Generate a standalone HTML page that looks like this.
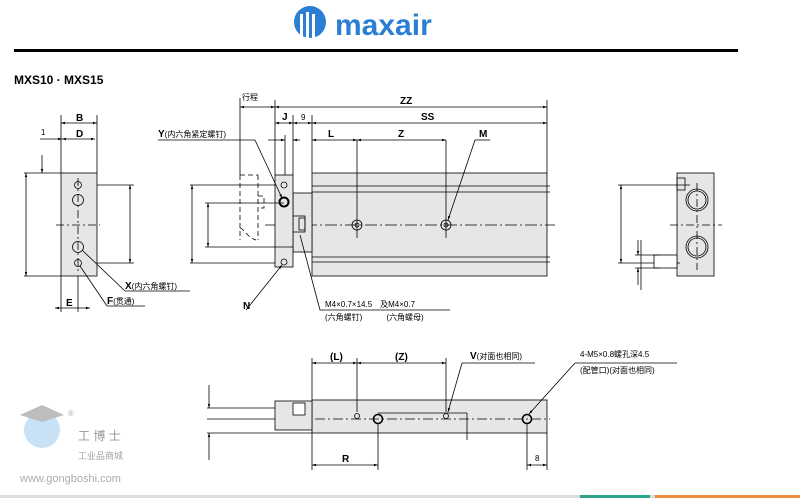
<!DOCTYPE html>
<html><head><meta charset="utf-8"><style>
html,body{margin:0;padding:0;background:#fff;}
svg{display:block;font-family:"Liberation Sans","Noto Sans CJK SC",sans-serif;}
</style></head><body>
<svg width="800" height="498" viewBox="0 0 800 498" xmlns="http://www.w3.org/2000/svg">
<defs>
<marker id="a" viewBox="0 0 10 10" refX="10" refY="5" markerWidth="5" markerHeight="5" orient="auto-start-reverse"><path d="M0,2L10,5L0,8z" fill="#000"/></marker>
</defs>
<!-- logo -->
<g>
<circle cx="310" cy="22" r="16" fill="#2a7fd4"/>
<rect x="300" y="14" width="3" height="24" fill="#fff"/><rect x="306" y="12" width="3" height="26" fill="#fff"/><rect x="312" y="14" width="3" height="24" fill="#fff"/>
<text x="335" y="35" font-size="30" font-weight="bold" fill="#2a7fd4">maxair</text>
</g>
<rect x="14" y="49" width="724" height="3" fill="#000"/>
<text x="14" y="84" font-size="12" font-weight="bold">MXS10 · MXS15</text>

<g stroke="#000" stroke-width="0.8" fill="none">
<!-- left view -->
<rect x="61" y="173" width="36" height="103" fill="#e6e6e6"/>
<line x1="24" y1="173" x2="61" y2="173"/><line x1="24" y1="276" x2="61" y2="276"/>
<line x1="26" y1="173" x2="26" y2="276" marker-start="url(#a)" marker-end="url(#a)"/>
<line x1="97" y1="185" x2="134" y2="185"/><line x1="97" y1="263" x2="134" y2="263"/>
<line x1="130" y1="185" x2="130" y2="263" marker-start="url(#a)" marker-end="url(#a)"/>
<line x1="61" y1="115" x2="61" y2="173"/><line x1="97" y1="115" x2="97" y2="173"/>
<line x1="61" y1="123" x2="97" y2="123" marker-start="url(#a)" marker-end="url(#a)"/>
<line x1="40" y1="139" x2="62" y2="139" marker-end="url(#a)"/><line x1="62" y1="139" x2="95" y2="139" marker-start="url(#a)" marker-end="url(#a)"/>
<line x1="42" y1="155" x2="42" y2="173" marker-end="url(#a)"/>
<line x1="56" y1="225" x2="100" y2="225" stroke-dasharray="8,3,2,3"/>
<line x1="78" y1="178" x2="78" y2="272" stroke-dasharray="8,3,2,3"/>
<circle cx="78" cy="185" r="3.5"/><circle cx="78" cy="200" r="5.5"/><circle cx="78" cy="247" r="5.5"/><circle cx="78" cy="263" r="3.5"/>
<line x1="61" y1="276" x2="61" y2="312"/><line x1="78" y1="276" x2="78" y2="312"/>
<line x1="55" y1="308" x2="90" y2="308" marker-start="url(#a)" marker-end="url(#a)"/>
<line x1="125" y1="291" x2="190" y2="291"/><line x1="125" y1="291" x2="82" y2="250"/>
<line x1="107" y1="306" x2="145" y2="306"/><line x1="107" y1="306" x2="80" y2="266"/>

<!-- middle view -->
<rect x="312" y="173" width="235" height="103" fill="#e6e6e6"/>
<line x1="312" y1="186" x2="550" y2="186"/><line x1="312" y1="192" x2="550" y2="192"/>
<line x1="312" y1="257" x2="550" y2="257"/><line x1="312" y1="262" x2="550" y2="262"/>
<line x1="265" y1="225" x2="555" y2="225" stroke-dasharray="12,3,2,3"/>
<rect x="293" y="193" width="19" height="59" fill="#e6e6e6"/>
<rect x="293" y="216" width="12" height="16" fill="#e6e6e6"/><rect x="299" y="218" width="6" height="12"/>
<rect x="275" y="175" width="18" height="92" fill="#e6e6e6"/>
<circle cx="284" cy="185" r="3"/><circle cx="284" cy="202" r="4.5" stroke-width="2"/><circle cx="284" cy="262" r="3"/>
<circle cx="357" cy="225" r="5"/><circle cx="357" cy="225" r="2"/><circle cx="446" cy="225" r="5"/><circle cx="446" cy="225" r="2"/>
<path d="M240 175H258M240 175V240M258 175V240M258 196h6v12h-6M240 228c3 0 8 10 16 12" stroke-dasharray="5,3"/>
<line x1="190" y1="185" x2="275" y2="185"/><line x1="190" y1="263" x2="275" y2="263"/>
<line x1="192" y1="185" x2="192" y2="263" marker-start="url(#a)" marker-end="url(#a)"/>
<line x1="205" y1="203" x2="284" y2="203"/><line x1="205" y1="247" x2="293" y2="247"/>
<line x1="208" y1="203" x2="208" y2="247" marker-start="url(#a)" marker-end="url(#a)"/>
<line x1="240" y1="98" x2="240" y2="175"/><line x1="275" y1="100" x2="275" y2="175"/>
<line x1="547" y1="100" x2="547" y2="173"/><line x1="312" y1="115" x2="312" y2="173"/>
<line x1="293" y1="115" x2="293" y2="175"/><line x1="285" y1="135" x2="285" y2="175"/>
<line x1="240" y1="107" x2="275" y2="107" marker-start="url(#a)" marker-end="url(#a)"/>
<line x1="275" y1="107" x2="547" y2="107" marker-start="url(#a)" marker-end="url(#a)"/>
<line x1="275" y1="123" x2="293" y2="123" marker-start="url(#a)" marker-end="url(#a)"/>
<line x1="293" y1="123" x2="312" y2="123" marker-start="url(#a)" marker-end="url(#a)"/>
<line x1="312" y1="123" x2="547" y2="123" marker-start="url(#a)" marker-end="url(#a)"/>
<line x1="268" y1="140" x2="285" y2="140" marker-end="url(#a)"/><line x1="293" y1="140" x2="300" y2="140" marker-start="url(#a)"/>
<line x1="312" y1="140" x2="357" y2="140" marker-start="url(#a)" marker-end="url(#a)"/>
<line x1="357" y1="140" x2="446" y2="140" marker-start="url(#a)" marker-end="url(#a)"/>
<line x1="357" y1="140" x2="357" y2="238"/><line x1="446" y1="140" x2="446" y2="238"/>
<line x1="158" y1="140" x2="255" y2="140"/><line x1="255" y1="140" x2="282" y2="198" marker-end="url(#a)"/>
<line x1="475" y1="140" x2="490" y2="140"/><line x1="475" y1="140" x2="448" y2="220" marker-end="url(#a)"/>
<line x1="246" y1="310" x2="282" y2="265" marker-end="url(#a)"/>
<line x1="320" y1="310" x2="450" y2="310"/><line x1="320" y1="310" x2="300" y2="235"/>

<!-- right view -->
<rect x="677" y="173" width="37" height="103" fill="#e6e6e6"/>
<circle cx="697" cy="200" r="11"/><circle cx="697" cy="200" r="9"/><circle cx="697" cy="247" r="11"/><circle cx="697" cy="247" r="9"/>
<line x1="670" y1="225" x2="722" y2="225" stroke-dasharray="8,3,2,3"/>
<line x1="697" y1="183" x2="697" y2="270" stroke-dasharray="8,3,2,3"/>
<rect x="677" y="178" width="8" height="12"/>
<line x1="618" y1="185" x2="690" y2="185"/><line x1="618" y1="263" x2="680" y2="263"/>
<line x1="621" y1="185" x2="621" y2="263" marker-start="url(#a)" marker-end="url(#a)"/>
<rect x="654" y="255" width="23" height="13" fill="#fff"/>
<line x1="635" y1="255" x2="660" y2="255"/><line x1="635" y1="268" x2="660" y2="268"/>
<line x1="638" y1="240" x2="638" y2="255" marker-end="url(#a)"/><line x1="638" y1="268" x2="638" y2="285" marker-start="url(#a)"/>
<line x1="641" y1="240" x2="641" y2="262" /><line x1="641" y1="262" x2="641" y2="290"/>

<!-- bottom view -->
<rect x="312" y="400" width="235" height="33" fill="#e6e6e6"/>
<rect x="275" y="401" width="37" height="29" fill="#e6e6e6"/>
<rect x="293" y="403" width="12" height="12" fill="#fff"/>
<line x1="207" y1="408" x2="275" y2="408"/><line x1="207" y1="433" x2="312" y2="433"/><line x1="207" y1="419" x2="275" y2="419"/>
<line x1="315" y1="419" x2="550" y2="419" stroke-dasharray="10,3,2,3"/>
<line x1="378" y1="413" x2="467" y2="413"/><line x1="467" y1="413" x2="467" y2="440"/>
<line x1="209" y1="385" x2="209" y2="408" marker-end="url(#a)"/><line x1="209" y1="433" x2="209" y2="460" marker-start="url(#a)"/>
<circle cx="357" cy="416" r="2.5"/><circle cx="378" cy="419" r="4.5" stroke-width="1.6"/><circle cx="446" cy="416" r="2.5"/><circle cx="527" cy="419" r="4.5" stroke-width="1.6"/>
<line x1="312" y1="358" x2="312" y2="400"/><line x1="357" y1="358" x2="357" y2="412"/><line x1="446" y1="358" x2="446" y2="412"/>
<line x1="312" y1="363" x2="357" y2="363" marker-start="url(#a)" marker-end="url(#a)"/>
<line x1="357" y1="363" x2="446" y2="363" marker-start="url(#a)" marker-end="url(#a)"/>
<line x1="312" y1="433" x2="312" y2="470"/><line x1="378" y1="424" x2="378" y2="470"/>
<line x1="312" y1="465" x2="378" y2="465" marker-start="url(#a)" marker-end="url(#a)"/>
<line x1="527" y1="424" x2="527" y2="470"/><line x1="547" y1="433" x2="547" y2="470"/>
<line x1="527" y1="465" x2="547" y2="465" marker-start="url(#a)" marker-end="url(#a)"/>
<line x1="462" y1="363" x2="535" y2="363"/><line x1="462" y1="363" x2="448" y2="412" marker-end="url(#a)"/>
<line x1="575" y1="363" x2="677" y2="363"/><line x1="575" y1="363" x2="529" y2="414" marker-end="url(#a)"/>
</g>

<g font-size="10" font-weight="bold">
<text x="76" y="121">B</text><text x="76" y="137">D</text><text x="66" y="306">E</text>
<text x="400" y="104">ZZ</text><text x="421" y="120">SS</text><text x="282" y="120">J</text>
<text x="328" y="137">L</text><text x="398" y="137">Z</text><text x="479" y="137">M</text>
<text x="243" y="309">N</text><text x="342" y="462">R</text>
<text x="330" y="360">(L)</text><text x="395" y="360">(Z)</text>
</g>
<g font-size="8">
<text x="41" y="135">1</text><text x="301" y="120">9</text><text x="242" y="100">行程</text>
<text x="158" y="137"><tspan font-weight="bold" font-size="10">Y</tspan>(内六角紧定螺钉)</text>
<text x="125" y="289"><tspan font-weight="bold" font-size="10">X</tspan>(内六角螺钉)</text>
<text x="107" y="304"><tspan font-weight="bold" font-size="10">F</tspan>(贯通)</text>
<text x="325" y="307">M4×0.7×14.5　及M4×0.7</text>
<text x="325" y="320">(六角螺钉)　　　(六角螺母)</text>
<text x="470" y="359"><tspan font-weight="bold" font-size="10">V</tspan>(对面也相同)</text>
<text x="580" y="357">4-M5×0.8螺孔深4.5</text>
<text x="580" y="373">(配管口)(对面也相同)</text>
<text x="535" y="461">8</text>
</g>
<!-- watermark -->
<g opacity="0.55">
<circle cx="42" cy="430" r="18" fill="#9cc9ec"/>
<path d="M20 415L42 405L64 415L42 422z" fill="#888"/>
<text x="78" y="440" font-size="12" fill="#444">工 博 士</text>
<text x="78" y="459" font-size="9" fill="#555">工业品商城</text>
<text x="20" y="482" font-size="11" fill="#666">www.gongboshi.com</text>
<text x="68" y="416" font-size="8" fill="#666">®</text>
</g>
<rect x="0" y="495" width="800" height="3" fill="#ddd"/>
<rect x="580" y="495" width="70" height="3" fill="#2aa48a"/>
<rect x="655" y="495" width="145" height="3" fill="#f08a3c"/>
</svg>
</body></html>
